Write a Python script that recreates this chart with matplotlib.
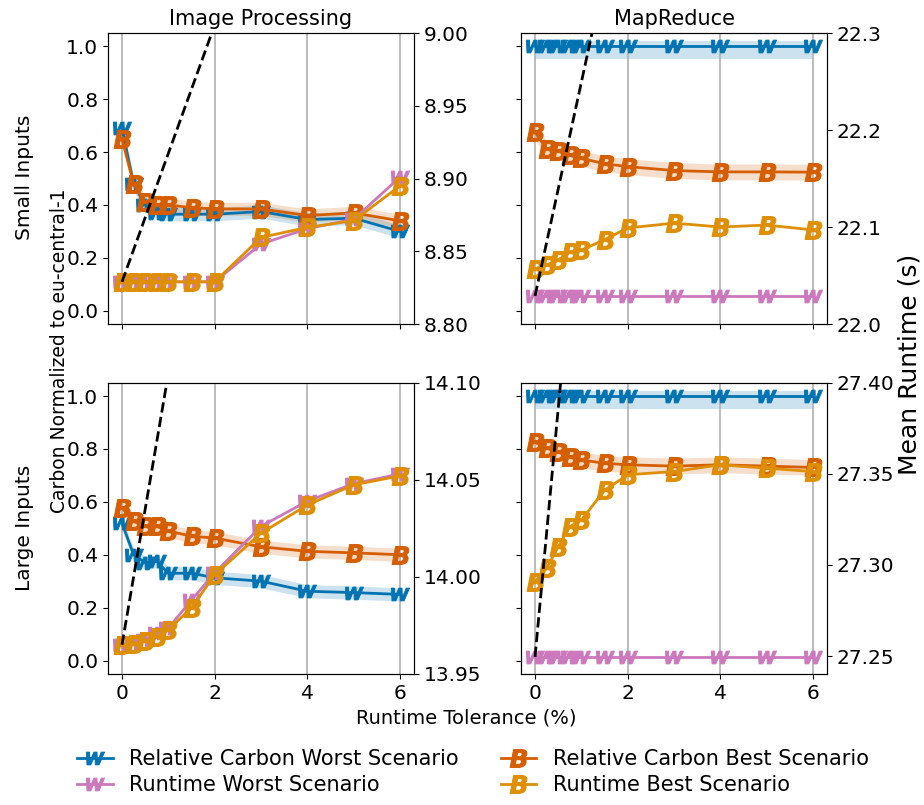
import numpy as np
import matplotlib
matplotlib.use("Agg")
import matplotlib.pyplot as plt
from matplotlib.lines import Line2D

# runtime tolerance (%)
tolerance = [0, 0.25, 0.5, 0.75, 1, 1.5, 2, 3, 4, 5, 6]

# Image Processing, small inputs
ip_small_carbon_worst = [0.69, 0.48, 0.40, 0.37, 0.365, 0.365, 0.365, 0.375, 0.345, 0.35, 0.30]
ip_small_carbon_best = [0.65, 0.48, 0.41, 0.40, 0.40, 0.39, 0.385, 0.385, 0.36, 0.37, 0.34]
ip_small_runtime_worst = [8.829, 8.829, 8.829, 8.829, 8.829, 8.829, 8.829, 8.855, 8.8655, 8.872, 8.901]
ip_small_runtime_best = [8.829, 8.829, 8.829, 8.829, 8.829, 8.829, 8.829, 8.8595, 8.8664, 8.871, 8.895]

# MapReduce, small inputs
mr_small_carbon_worst = [1.0] * 11
mr_small_carbon_best = [0.675, 0.612, 0.604, 0.588, 0.576, 0.556, 0.545, 0.530, 0.525, 0.525, 0.524]
mr_small_runtime_worst = [22.029] * 11
mr_small_runtime_best = [22.057, 22.061, 22.066, 22.074, 22.076, 22.087, 22.099, 22.104, 22.100, 22.102, 22.097]

# Image Processing, large inputs
ip_large_carbon_worst = [0.52, 0.40, 0.37, 0.375, 0.33, 0.33, 0.313, 0.30, 0.262, 0.257, 0.25]
ip_large_carbon_best = [0.577, 0.526, 0.507, 0.507, 0.49, 0.47, 0.463, 0.43, 0.413, 0.407, 0.40]
ip_large_runtime_worst = [13.965, 13.9658, 13.9675, 13.971, 13.9736, 13.988, 14.002, 14.026, 14.039, 14.048, 14.053]
ip_large_runtime_best = [13.965, 13.9655, 13.9667, 13.969, 13.9727, 13.984, 14.001, 14.0225, 14.037, 14.0474, 14.052]

# MapReduce, large inputs
mr_large_carbon_worst = [1.0] * 11
mr_large_carbon_best = [0.825, 0.803, 0.79, 0.771, 0.758, 0.746, 0.74, 0.735, 0.74, 0.735, 0.73]
mr_large_runtime_worst = [27.2496] * 11
mr_large_runtime_best = [27.2908, 27.2982, 27.310, 27.321, 27.3247, 27.341, 27.3495, 27.3513, 27.355, 27.3531, 27.3513]

# confidence band half widths (carbon worst low/high, carbon best)
band_worst = [(0.025, 0.025), (0.05, 0.02), (0.025, 0.025), (0.05, 0.02)]
band_best = [0.025, 0.03, 0.025, 0.03]

runtime_ylims = [(8.80, 9.00), (22.0, 22.3), (13.95, 14.10), (27.2403, 27.40)]
runtime_ticks = [[8.80, 8.85, 8.90, 8.95, 9.00], [22.0, 22.1, 22.2, 22.3],
                 [13.95, 14.00, 14.05, 14.10], [27.25, 27.30, 27.35, 27.40]]
runtime_fmt = ["%.2f", "%.1f", "%.2f", "%.2f"]

titles = ["Image Processing", "MapReduce"]

c_worst = "#0173b2"
c_best = "#d55e00"
c_rt_worst = "#cc78bc"
c_rt_best = "#de8f05"

plt.rcParams["font.size"] = 14
plt.rcParams["xtick.labelsize"] = 14.5
plt.rcParams["ytick.labelsize"] = 14.5

panels = [
    (ip_small_carbon_worst, ip_small_carbon_best, ip_small_runtime_worst, ip_small_runtime_best),
    (mr_small_carbon_worst, mr_small_carbon_best, mr_small_runtime_worst, mr_small_runtime_best),
    (ip_large_carbon_worst, ip_large_carbon_best, ip_large_runtime_worst, ip_large_runtime_best),
    (mr_large_carbon_worst, mr_large_carbon_best, mr_large_runtime_worst, mr_large_runtime_best),
]

fig = plt.figure(figsize=(9.24, 8.05), dpi=100)
lefts = [0.117, 0.564]
bottoms = [0.5975, 0.163]
w = 0.331
h = 0.3615

x = np.array(tolerance)
mW = r"$\boldsymbol{W}$"
mB = r"$\boldsymbol{B}$"
ms = 13
mew = 0.7
lw = 2

for i, (cw, cb, rw, rb) in enumerate(panels):
    row, col = divmod(i, 2)
    ax = fig.add_axes([lefts[col], bottoms[row], w, h])
    cw, cb = np.array(cw), np.array(cb)
    lo, hi = band_worst[i]
    ax.fill_between(x, cw - lo, cw + hi, color=c_worst, alpha=0.2, lw=0)
    ax.fill_between(x, cb - band_best[i], cb + band_best[i], color=c_best, alpha=0.2, lw=0)
    ax.plot(x, cw, color=c_worst, lw=lw, marker=mW, ms=ms, mew=mew)
    ax.plot(x, cb, color=c_best, lw=lw, marker=mB, ms=ms, mew=mew)
    ax.set_ylim(-0.05, 1.05)
    ax.set_xlim(-0.3, 6.3)
    ax.set_yticks([0.0, 0.2, 0.4, 0.6, 0.8, 1.0])
    ax.set_xticks([0, 2, 4, 6])
    ax.grid(axis="x", color="#b0b0b0", lw=1.2)
    if col == 1:
        ax.set_yticklabels([])
    if row == 0:
        ax.set_xticklabels([])
        ax.set_title(titles[col], fontsize=15)

    ax2 = ax.twinx()
    ax2.plot(x, rw, color=c_rt_worst, lw=lw, marker=mW, ms=ms, mew=mew)
    ax2.plot(x, rb, color=c_rt_best, lw=lw, marker=mB, ms=ms, mew=mew)
    ax2.plot(x, rw[0] * (1 + x / 100), color="black", lw=2, ls="--")
    ax2.set_ylim(*runtime_ylims[i])
    ax2.set_yticks(runtime_ticks[i])
    ax2.set_yticklabels([runtime_fmt[i] % t for t in runtime_ticks[i]])
    ax.set_xlim(-0.3, 6.3)

fig.text(0.026, 0.78, "Small Inputs", rotation=90, ha="center", va="center", fontsize=14.5)
fig.text(0.026, 0.344, "Large Inputs", rotation=90, ha="center", va="center", fontsize=14.5)
fig.text(0.064, 0.564, "Carbon Normalized to eu-central-1", rotation=90, ha="center",
         va="center", fontsize=13.5)
fig.text(0.984, 0.547, "Mean Runtime (s)", rotation=90, ha="center", va="center", fontsize=18)
fig.text(0.505, 0.108, "Runtime Tolerance (%)", ha="center", va="center")

handles = [
    Line2D([], [], color=c_worst, lw=lw, marker=mW, ms=ms, mew=mew),
    Line2D([], [], color=c_rt_worst, lw=lw, marker=mW, ms=ms, mew=mew),
    Line2D([], [], color=c_best, lw=lw, marker=mB, ms=ms, mew=mew),
    Line2D([], [], color=c_rt_best, lw=lw, marker=mB, ms=ms, mew=mew),
]
labels = ["Relative Carbon Worst Scenario", "Runtime Worst Scenario",
          "Relative Carbon Best Scenario", "Runtime Best Scenario"]
fig.legend(handles, labels, ncol=2, loc="center", bbox_to_anchor=(0.512, 0.041),
           frameon=False, fontsize=15, labelspacing=0.3, handlelength=1.7)

fig.savefig("out.png", dpi=100)
